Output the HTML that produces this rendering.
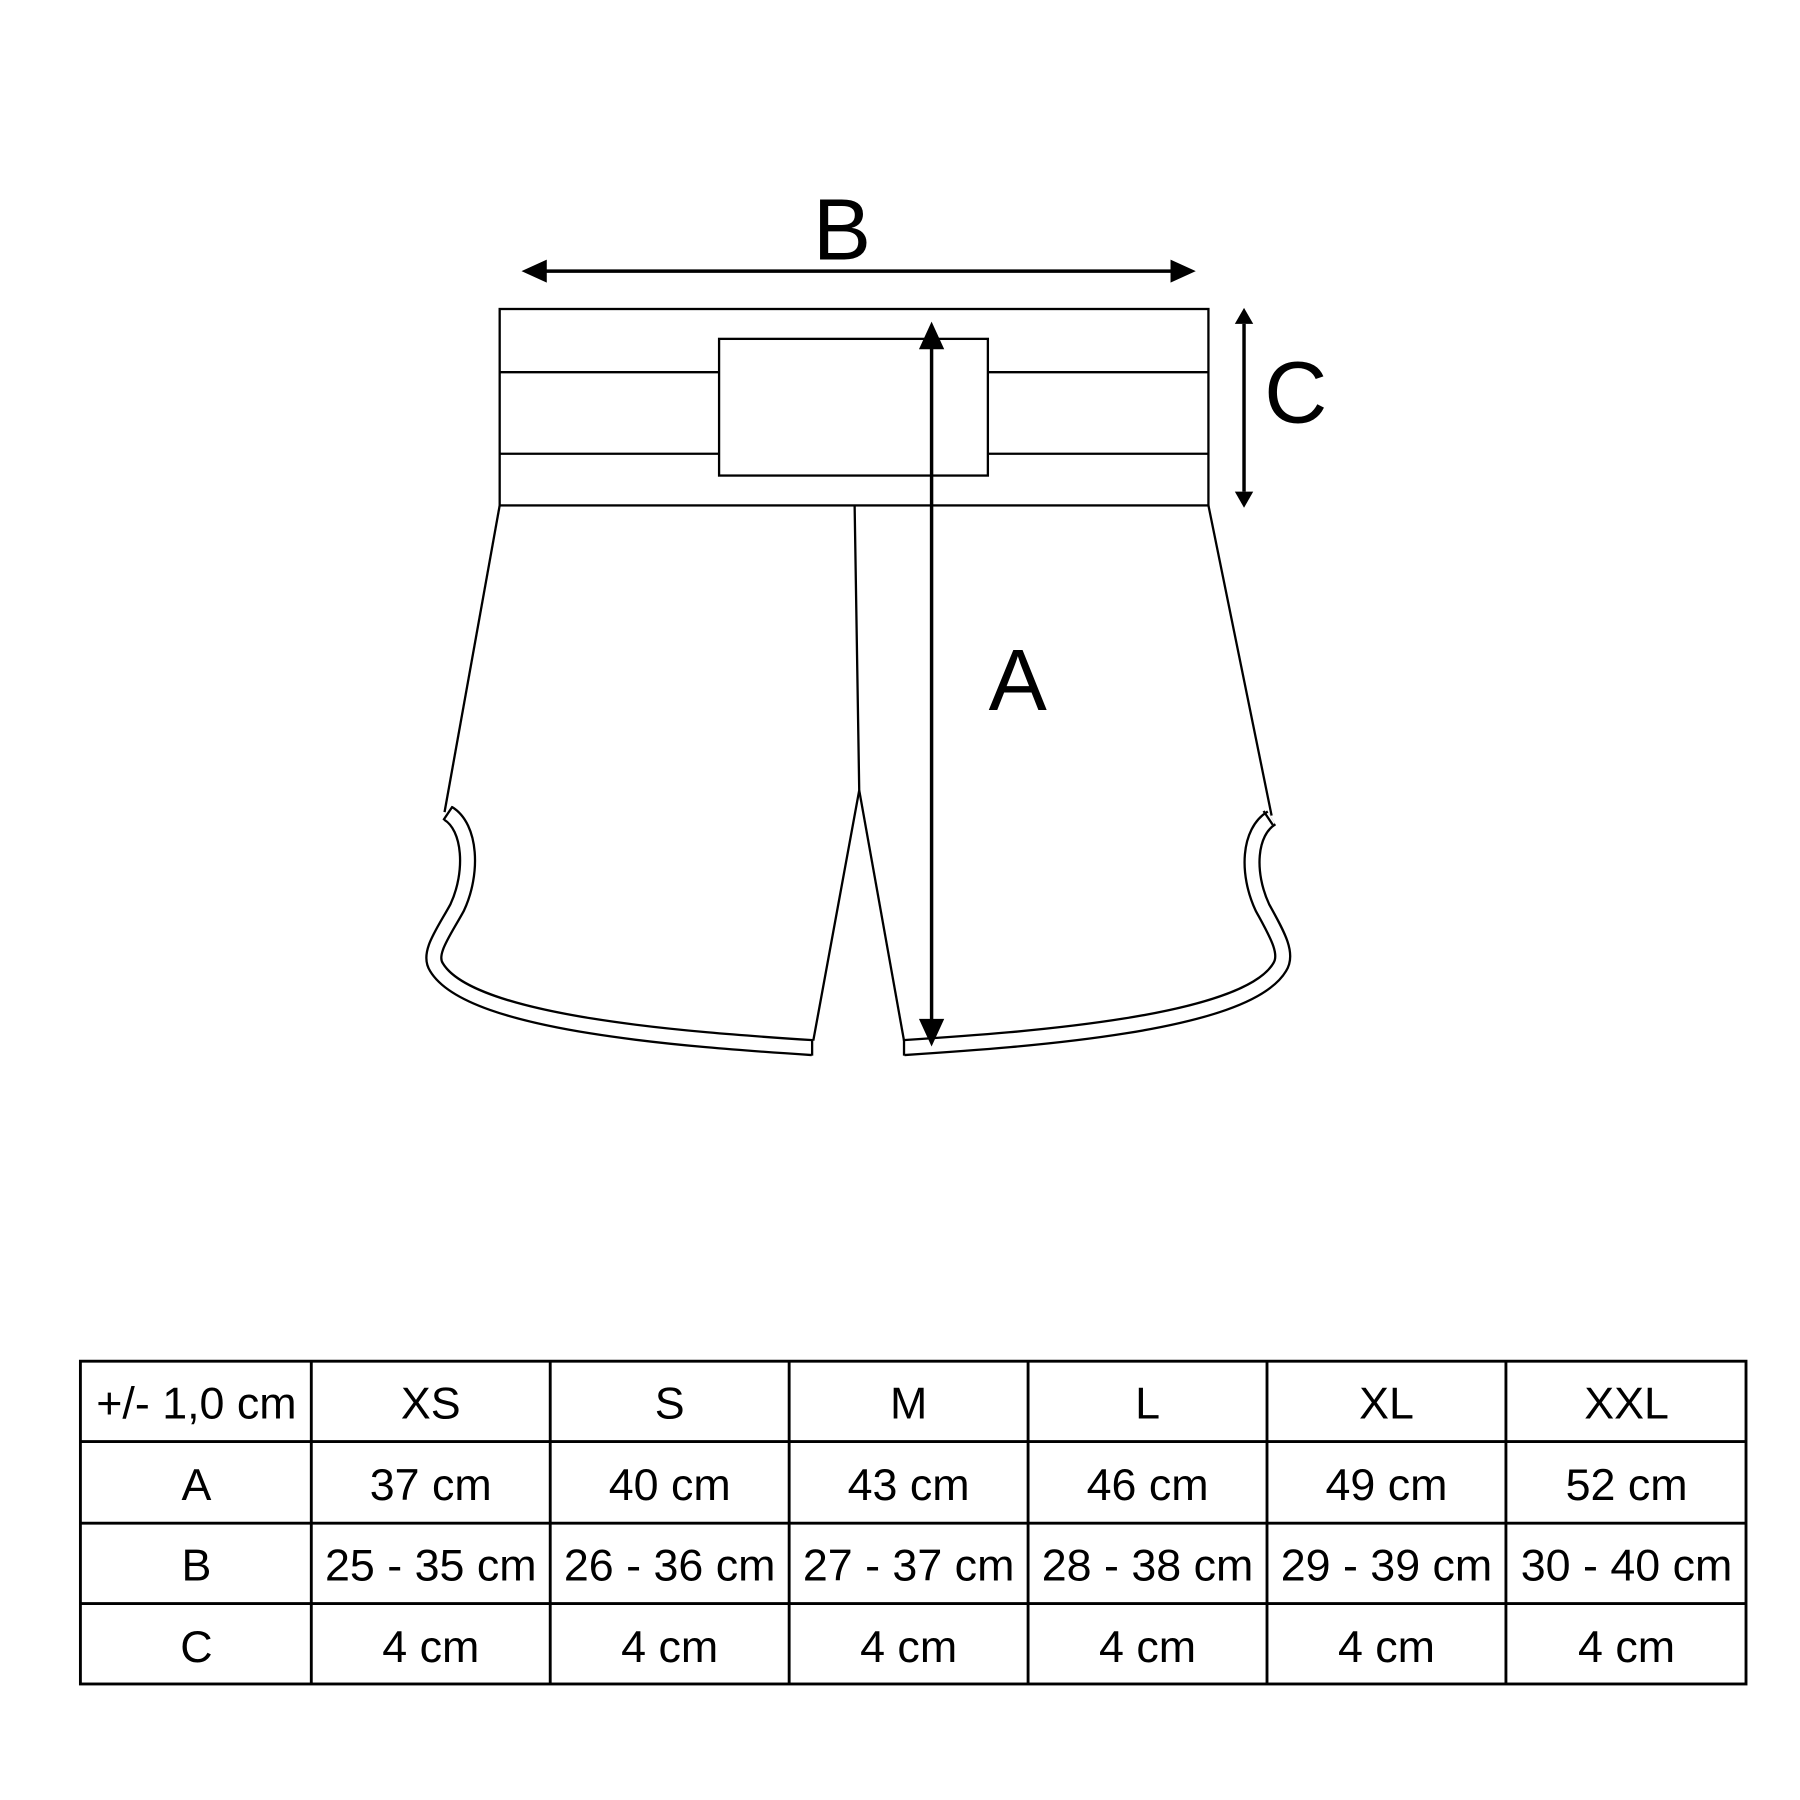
<!DOCTYPE html>
<html><head><meta charset="utf-8"><style>
html,body{margin:0;padding:0;background:#fff;}
svg{display:block;}
text{font-family:"Liberation Sans",sans-serif;}
</style></head><body>
<svg width="1800" height="1800" viewBox="0 0 1567 1567" xmlns="http://www.w3.org/2000/svg">
<g fill="none" stroke="#000" stroke-width="2">
<rect x="435" y="269" width="617" height="171"/>
<line x1="435" y1="324" x2="626" y2="324"/>
<line x1="860" y1="324" x2="1052" y2="324"/>
<line x1="435" y1="395" x2="626" y2="395"/>
<line x1="860" y1="395" x2="1052" y2="395"/>
<rect x="626" y="295" width="234" height="119" fill="#fff"/>
<line x1="435" y1="440" x2="387" y2="707"/>
<line x1="1052" y1="440" x2="1107" y2="710"/>
<polyline points="744,440 748,688 708,906"/>
<polyline points="748,688 787,906"/>
</g>
<g fill="none" stroke-linejoin="round">
<path d="M 390 708 C 410 720, 412 760, 398 790 C 386 812, 372 830, 380 842 C 410 892, 600 905, 707 912" stroke="#000" stroke-width="15"/>
<path d="M 390 708 C 410 720, 412 760, 398 790 C 386 812, 372 830, 380 842 C 410 892, 600 905, 707 912" stroke="#fff" stroke-width="11"/>
<g transform="translate(1494,0) scale(-1,1)">
<path d="M 387 712 C 407 724, 409 760, 395 790 C 383 812, 372 830, 380 842 C 410 892, 600 905, 707 912" stroke="#000" stroke-width="15"/>
<path d="M 387 712 C 407 724, 409 760, 395 790 C 383 812, 372 830, 380 842 C 410 892, 600 905, 707 912" stroke="#fff" stroke-width="11"/>
</g>
</g>
<g stroke="#000" stroke-width="2">
<line x1="707" y1="905" x2="707" y2="919"/>
<line x1="787" y1="905" x2="787" y2="919"/>
<line x1="386" y1="714" x2="394" y2="702"/>
<line x1="1108" y1="718" x2="1100" y2="706"/>
</g>
<g stroke="#000" stroke-width="3">
<line x1="470" y1="236" x2="1025" y2="236"/>
<line x1="1083" y1="282" x2="1083" y2="428"/>
<line x1="811" y1="298" x2="811" y2="892"/>
</g>
<g fill="#000">
<polygon points="454,236 476,226 476,246"/>
<polygon points="1041,236 1019,226 1019,246"/>
<polygon points="1083,268 1075,282 1091,282"/>
<polygon points="1083,442 1075,428 1091,428"/>
<polygon points="811,280 800,304 822,304"/>
<polygon points="811,911 800,887 822,887"/>
</g>
<g font-size="76" fill="#000" text-anchor="middle">
<text x="733" y="226">B</text>
<text x="1128" y="368">C</text>
<text x="886" y="618">A</text>
</g>
<g stroke="#000" stroke-width="2.5" fill="none">
<rect x="70" y="1185" width="1450" height="281"/>
<line x1="70" y1="1255" x2="1520" y2="1255"/>
<line x1="70" y1="1326" x2="1520" y2="1326"/>
<line x1="70" y1="1396" x2="1520" y2="1396"/>
<line x1="271" y1="1185" x2="271" y2="1466"/>
<line x1="479" y1="1185" x2="479" y2="1466"/>
<line x1="687" y1="1185" x2="687" y2="1466"/>
<line x1="895" y1="1185" x2="895" y2="1466"/>
<line x1="1103" y1="1185" x2="1103" y2="1466"/>
<line x1="1311" y1="1185" x2="1311" y2="1466"/>
</g>
<g font-size="39" fill="#000" text-anchor="middle">
<text x="171" y="1235">+/- 1,0 cm</text>
<text x="375" y="1235">XS</text><text x="583" y="1235">S</text><text x="791" y="1235">M</text><text x="999" y="1235">L</text><text x="1207" y="1235">XL</text><text x="1416" y="1235">XXL</text>
<text x="171" y="1306">A</text>
<text x="375" y="1306">37 cm</text><text x="583" y="1306">40 cm</text><text x="791" y="1306">43 cm</text><text x="999" y="1306">46 cm</text><text x="1207" y="1306">49 cm</text><text x="1416" y="1306">52 cm</text>
<text x="171" y="1376">B</text>
<text x="375" y="1376">25 - 35 cm</text><text x="583" y="1376">26 - 36 cm</text><text x="791" y="1376">27 - 37 cm</text><text x="999" y="1376">28 - 38 cm</text><text x="1207" y="1376">29 - 39 cm</text><text x="1416" y="1376">30 - 40 cm</text>
<text x="171" y="1447">C</text>
<text x="375" y="1447">4 cm</text><text x="583" y="1447">4 cm</text><text x="791" y="1447">4 cm</text><text x="999" y="1447">4 cm</text><text x="1207" y="1447">4 cm</text><text x="1416" y="1447">4 cm</text>
</g>
</svg>
</body></html>
